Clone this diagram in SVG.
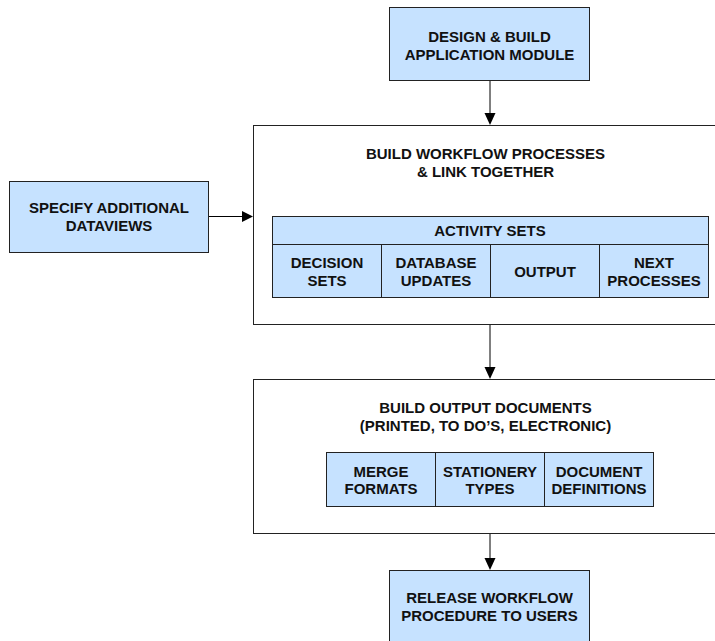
<svg xmlns="http://www.w3.org/2000/svg" width="715" height="641" viewBox="0 0 715 641">
<style>
  .blue { fill: #C6E2FF; stroke: #222; stroke-width: 1; }
  .frame { fill: #FFFFFF; stroke: #222; stroke-width: 1; }
  .cell { fill: none; stroke: #222; stroke-width: 1; }
  text { font-family: "Liberation Sans", Arial, sans-serif; font-weight: bold; font-size: 15px; fill: #111; text-anchor: middle; }
  .line { stroke: #000; stroke-width: 1; fill: none; }
  .head { fill: #000; stroke: none; }
</style>
<rect x="0" y="0" width="715" height="641" fill="#FFFFFF"/>
<g id="connectors">
  <line class="line" x1="490" y1="80.5" x2="490" y2="114"/>
  <polygon class="head" points="484.5,113 495.5,113 490,125"/>
  <line class="line" x1="208.5" y1="216.5" x2="243" y2="216.5"/>
  <polygon class="head" points="242,211 242,222 253,216.5"/>
  <line class="line" x1="490" y1="324.5" x2="490" y2="368"/>
  <polygon class="head" points="484.5,367 495.5,367 490,379"/>
  <line class="line" x1="490" y1="533.5" x2="490" y2="559"/>
  <polygon class="head" points="484.5,558 495.5,558 490,570"/>
</g>
<g id="design-build">
  <rect class="blue" x="389.5" y="7.5" width="200" height="73"/>
  <text x="489.5" y="42">DESIGN &amp; BUILD</text>
  <text x="489.5" y="60">APPLICATION MODULE</text>
</g>
<g id="specify-dataviews">
  <rect class="blue" x="9.5" y="181.5" width="199" height="71"/>
  <text x="109" y="213">SPECIFY ADDITIONAL</text>
  <text x="109" y="231">DATAVIEWS</text>
</g>
<g id="build-workflow">
  <rect class="frame" x="253.5" y="125.5" width="470" height="199"/>
  <text x="485.5" y="159">BUILD WORKFLOW PROCESSES</text>
  <text x="485.5" y="177">&amp; LINK TOGETHER</text>
  <g id="activity-sets">
    <rect class="blue" x="272.5" y="216.5" width="436" height="81"/>
    <line class="cell" x1="272.5" y1="244.5" x2="708.5" y2="244.5"/>
    <line class="cell" x1="381.5" y1="244.5" x2="381.5" y2="297.5"/>
    <line class="cell" x1="490.5" y1="244.5" x2="490.5" y2="297.5"/>
    <line class="cell" x1="599.5" y1="244.5" x2="599.5" y2="297.5"/>
    <text x="490" y="236">ACTIVITY SETS</text>
    <text x="327" y="268">DECISION</text>
    <text x="327" y="286">SETS</text>
    <text x="436" y="268">DATABASE</text>
    <text x="436" y="286">UPDATES</text>
    <text x="545" y="277">OUTPUT</text>
    <text x="654" y="268">NEXT</text>
    <text x="654" y="286">PROCESSES</text>
  </g>
</g>
<g id="build-output">
  <rect class="frame" x="253.5" y="379.5" width="470" height="154"/>
  <text x="485.5" y="413">BUILD OUTPUT DOCUMENTS</text>
  <text x="485.5" y="430.5">(PRINTED, TO DO’S, ELECTRONIC)</text>
  <g id="output-types">
    <rect class="blue" x="326.5" y="452.5" width="327" height="54"/>
    <line class="cell" x1="435.5" y1="452.5" x2="435.5" y2="506.5"/>
    <line class="cell" x1="544.5" y1="452.5" x2="544.5" y2="506.5"/>
    <text x="381" y="476.5">MERGE</text>
    <text x="381" y="494">FORMATS</text>
    <text x="490" y="476.5">STATIONERY</text>
    <text x="490" y="494">TYPES</text>
    <text x="599" y="476.5">DOCUMENT</text>
    <text x="599" y="494">DEFINITIONS</text>
  </g>
</g>
<g id="release">
  <rect class="blue" x="389.5" y="570.5" width="200" height="80"/>
  <text x="489.5" y="602.5">RELEASE WORKFLOW</text>
  <text x="489.5" y="621">PROCEDURE TO USERS</text>
</g>
</svg>
